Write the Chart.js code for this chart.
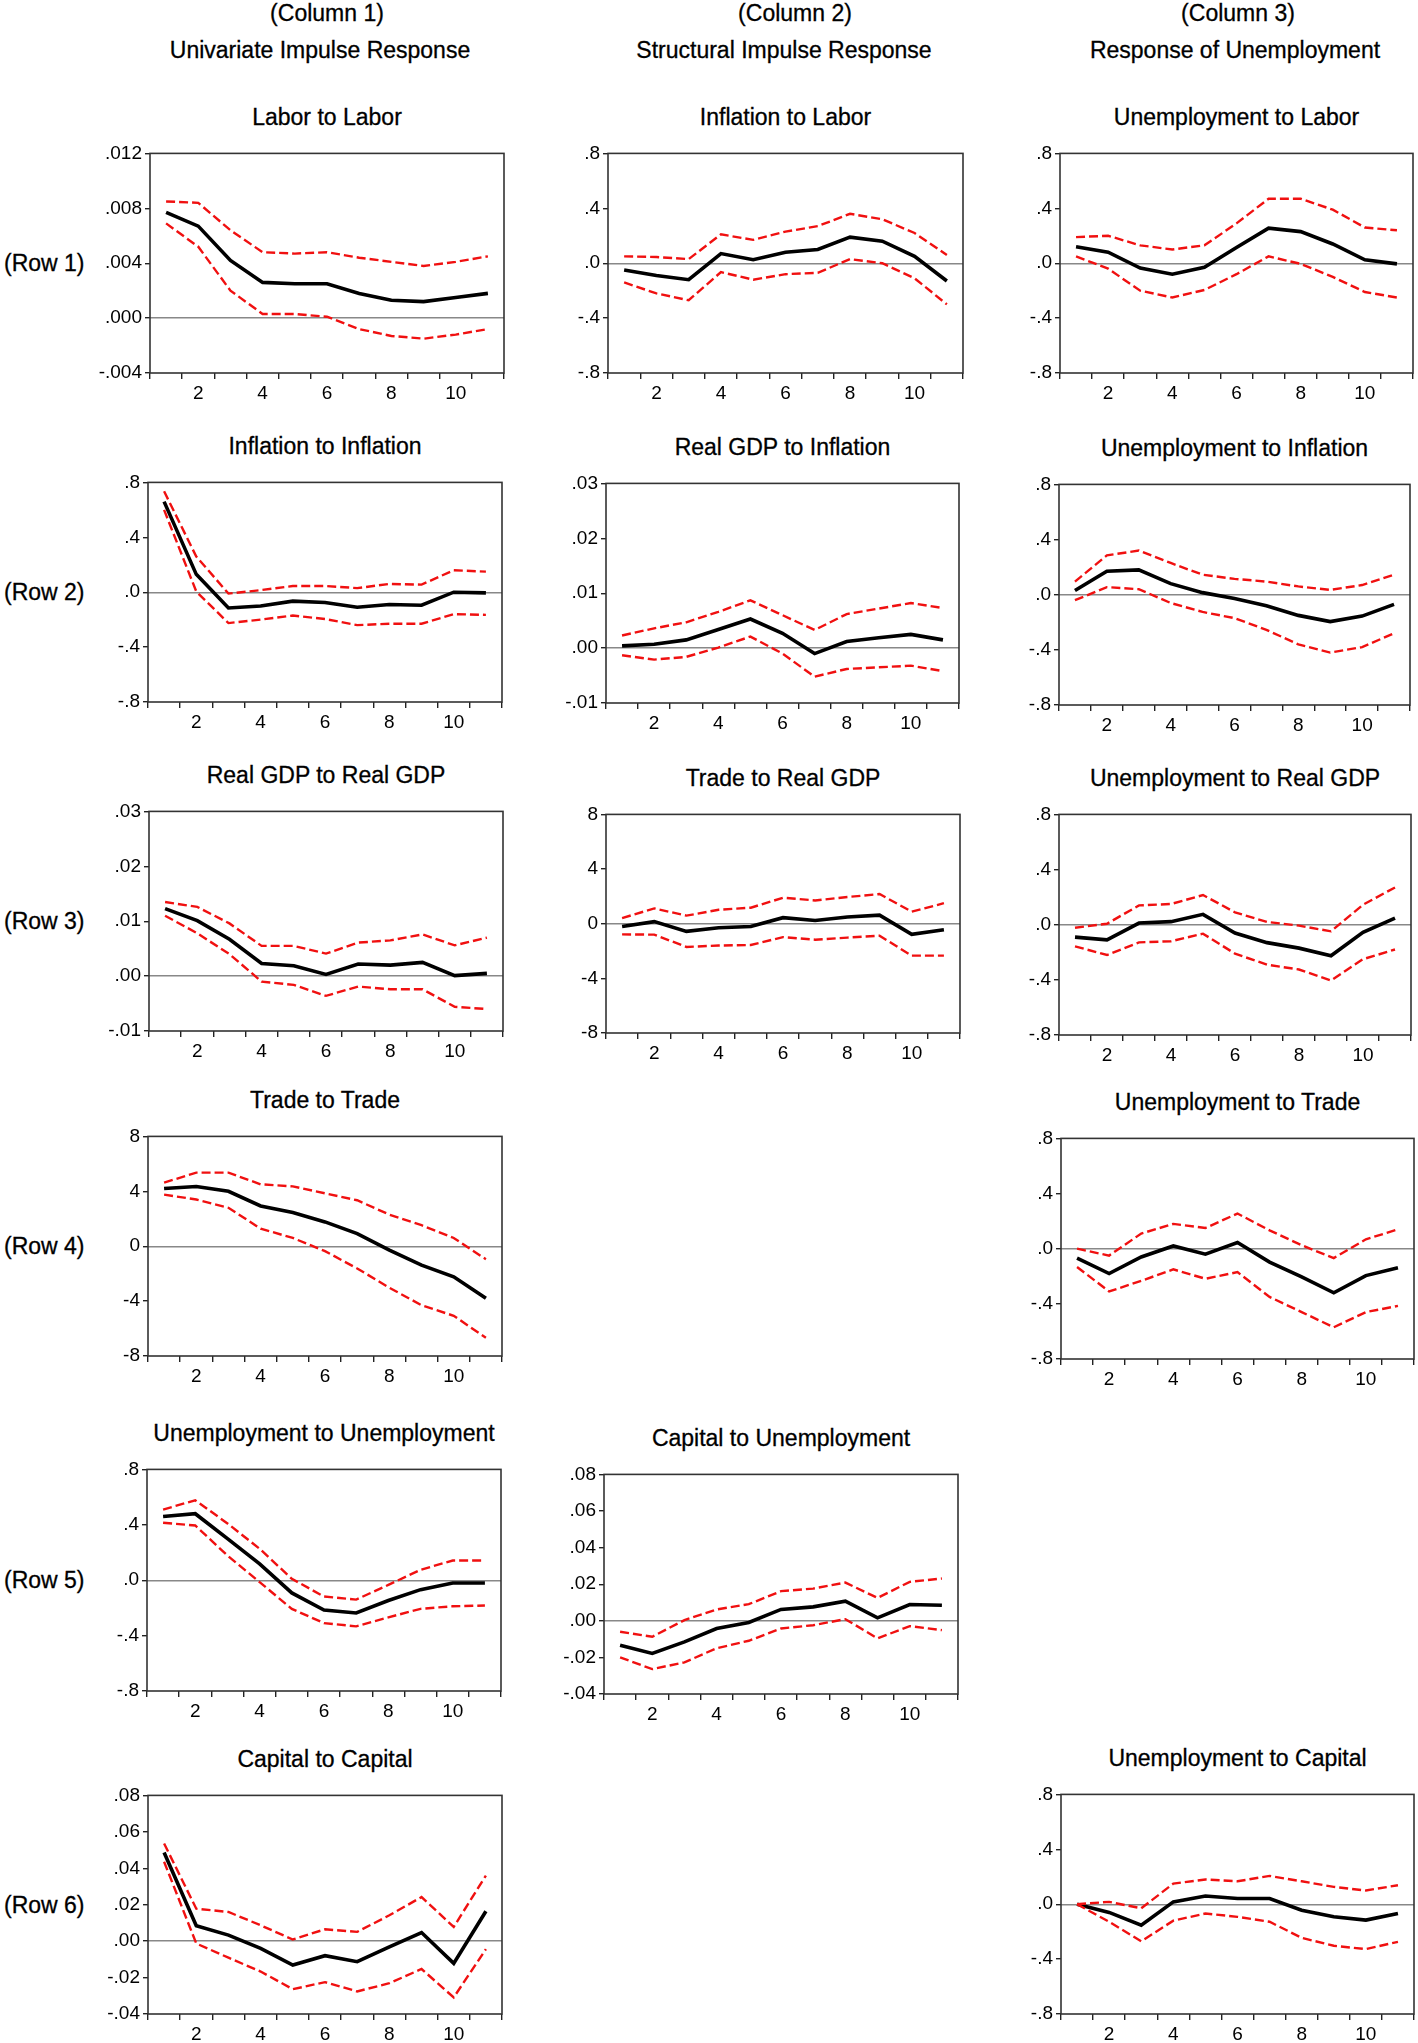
<!DOCTYPE html>
<html>
<head>
<meta charset="utf-8">
<script src="https://cdn.jsdelivr.net/npm/chart.js@4.4.1/dist/chart.umd.min.js"></script>
<style>
  body { margin: 0; background: #fff; font-family: 'Liberation Sans', Arial, sans-serif; color: #000; }
  #page { position: relative; width: 1418px; height: 2043px; overflow: hidden; }
  .lbl { position: absolute; transform: translate(-50%, -50%); white-space: nowrap; font-size: 23px; -webkit-text-stroke: 0.3px #000; }
  .title { font-size: 23px; }
  .rowLbl { position: absolute; transform: translateY(-50%); white-space: nowrap; font-size: 23px; -webkit-text-stroke: 0.3px #000; }
  canvas { position: absolute; }
</style>
</head>
<body>
<div id="page"></div>
<script>
const periods = ['1', '2', '3', '4', '5', '6', '7', '8', '9', '10', '11'];

// y tick values
const ticksPt8 = [-0.8, -0.4, 0, 0.4, 0.8];
const ticksPt012 = [-0.004, 0, 0.004, 0.008, 0.012];
const ticksPt03 = [-0.01, 0, 0.01, 0.02, 0.03];
const ticksEight = [-8, -4, 0, 4, 8];
const ticksPt08 = [-0.04, -0.02, 0, 0.02, 0.04, 0.06, 0.08];

// Column 1 - univariate
const labLab   = [.0077, .0067, .0042, .0026, .0025, .0025, .0018, .0013, .0012, .0015, .0018];
const labLabHi = [.0085, .0084, .0064, .0048, .0047, .0048, .0044, .0041, .0038, .0041, .0045];
const labLabLo = [.0069, .0052, .0020, .0003, .0003, .0001, -.0008, -.0013, -.0015, -.0012, -.0008];

const infInf   = [.66, .13, -.115, -.10, -.065, -.075, -.11, -.09, -.095, 0, -.005];
const infInfHi = [.735, .26, -.01, .015, .045, .045, .03, .06, .055, .16, .15];
const infInfLo = [.60, .005, -.225, -.20, -.17, -.195, -.24, -.23, -.23, -.16, -.165];

const gdpGdp   = [.0123, .0101, .0067, .0023, .0019, .0003, .0022, .0020, .0025, .0001, .0005];
const gdpGdpHi = [.0135, .0126, .0096, .0055, .0055, .0041, .0061, .0065, .0076, .0056, .0070];
const gdpGdpLo = [.0110, .0078, .0040, -.0010, -.0016, -.0036, -.0019, -.0024, -.0024, -.0056, -.0060];

const trdTrd   = [4.2, 4.35, 4.0, 2.93, 2.45, 1.77, .92, -.29, -1.38, -2.23, -3.8];
const trdTrdHi = [4.63, 5.36, 5.36, 4.51, 4.36, 3.85, 3.35, 2.3, 1.53, .6, -.95];
const trdTrdLo = [3.76, 3.4, 2.8, 1.28, .6, -.36, -1.62, -3.03, -4.3, -5.07, -6.67];

const unUn   = [.46, .48, .30, .118, -.092, -.215, -.237, -.147, -.068, -.02, -.02];
const unUnHi = [.51, .577, .41, .227, .01, -.118, -.14, -.034, .075, .142, .142];
const unUnLo = [.415, .395, .178, -.014, -.207, -.31, -.333, -.268, -.207, -.188, -.183];

const capCap   = [.0487, .0084, .0033, -.0040, -.0131, -.0080, -.0113, -.0031, .0047, -.0122, .0164];
const capCapHi = [.0536, .0178, .0160, .0087, .0009, .0065, .0051, .0142, .0242, .0078, .0360];
const capCapLo = [.0436, -.0013, -.0091, -.0167, -.0264, -.0225, -.0276, -.0231, -.0153, -.0309, -.0044];

// Column 2 - structural
const infLab   = [-.05, -.09, -.12, .07, .025, .08, .10, .19, .16, .05, -.13];
const infLabHi = [.05, .045, .03, .21, .17, .23, .27, .36, .32, .22, .06];
const infLabLo = [-.14, -.22, -.27, -.065, -.12, -.08, -.07, .03, 0, -.11, -.30];

const gdpInf   = [.0004, .0007, .0015, .0034, .0053, .0027, -.0010, .0012, .0019, .0025, .0015];
const gdpInfHi = [.0023, .0036, .0047, .0066, .0087, .0060, .0033, .0062, .0072, .0082, .0073];
const gdpInfLo = [-.0013, -.0021, -.0016, .0001, .0021, -.0010, -.0052, -.0038, -.0035, -.0032, -.0042];

const trdGdp   = [-.2, .15, -.56, -.3, -.2, .44, .24, .49, .63, -.78, -.44];
const trdGdpHi = [.41, 1.12, .59, 1.02, 1.17, 1.9, 1.7, 1.95, 2.17, .88, 1.5];
const trdGdpLo = [-.78, -.8, -1.7, -1.6, -1.56, -.98, -1.17, -1.02, -.88, -2.34, -2.34];

const capUn   = [-.0133, -.0178, -.0115, -.0042, -.0009, .0062, .0076, .0107, .0016, .0089, .0085];
const capUnHi = [-.0060, -.0087, .0004, .0062, .0091, .0162, .0176, .0209, .0125, .0213, .0231];
const capUnLo = [-.0200, -.0264, -.0227, -.0150, -.0109, -.0042, -.0024, .0009, -.0096, -.0029, -.0051];

// Column 3 - unemployment
const unLab   = [.12, .08, -.035, -.08, -.03, .115, .255, .23, .14, .025, -.005];
const unLabHi = [.19, .20, .13, .10, .13, .29, .47, .47, .39, .26, .24];
const unLabLo = [.05, -.04, -.20, -.25, -.195, -.08, .05, -.005, -.10, -.21, -.25];

const unInf   = [.03, .17, .18, .08, .015, -.027, -.08, -.15, -.195, -.155, -.07];
const unInfHi = [.095, .285, .32, .23, .145, .115, .095, .06, .035, .07, .145];
const unInfLo = [-.04, .055, .04, -.06, -.125, -.17, -.255, -.36, -.42, -.38, -.28];

const unGdp   = [-.09, -.11, .012, .022, .075, -.06, -.13, -.17, -.225, -.055, .048];
const unGdpHi = [-.022, .007, .14, .15, .215, .09, .02, -.007, -.048, .145, .27];
const unGdpLo = [-.157, -.22, -.128, -.12, -.065, -.21, -.29, -.325, -.405, -.25, -.18];

const unTrd   = [-.068, -.18, -.06, .02, -.04, .045, -.097, -.205, -.32, -.195, -.138];
const unTrdHi = [0, -.05, .11, .18, .15, .255, .133, .025, -.068, .068, .14];
const unTrdLo = [-.133, -.31, -.233, -.15, -.218, -.17, -.35, -.46, -.57, -.46, -.415];

const unCap   = [0, -.06, -.153, .017, .06, .041, .041, -.044, -.092, -.116, -.068];
const unCapHi = [0, .017, -.03, .15, .18, .167, .206, .167, .126, .10, .138];
const unCapLo = [0, -.128, -.27, -.12, -.068, -.092, -.128, -.245, -.303, -.327, -.274];


const FONT = "'Liberation Sans', Arial, sans-serif";
Chart.defaults.font.family = FONT;

const page = document.getElementById('page');

// box = [plot left, plot top, plot width, plot height]
const panels = [
  { title: 'Labor to Labor', lines: [labLab, labLabHi, labLabLo], ticks: ticksPt012, dec: 3, box: [150, 153, 354, 220] },
  { title: 'Inflation to Labor', lines: [infLab, infLabHi, infLabLo], ticks: ticksPt8, dec: 1, box: [608, 153, 355, 220] },
  { title: 'Unemployment to Labor', lines: [unLab, unLabHi, unLabLo], ticks: ticksPt8, dec: 1, box: [1060, 153, 353, 220] },

  { title: 'Inflation to Inflation', lines: [infInf, infInfHi, infInfLo], ticks: ticksPt8, dec: 1, box: [148, 482, 354, 220] },
  { title: 'Real GDP to Inflation', lines: [gdpInf, gdpInfHi, gdpInfLo], ticks: ticksPt03, dec: 2, box: [606, 483, 353, 220] },
  { title: 'Unemployment to Inflation', lines: [unInf, unInfHi, unInfLo], ticks: ticksPt8, dec: 1, box: [1059, 484, 351, 221] },

  { title: 'Real GDP to Real GDP', lines: [gdpGdp, gdpGdpHi, gdpGdpLo], ticks: ticksPt03, dec: 2, box: [149, 811, 354, 220] },
  { title: 'Trade to Real GDP', lines: [trdGdp, trdGdpHi, trdGdpLo], ticks: ticksEight, dec: 0, box: [606, 814, 354, 219] },
  { title: 'Unemployment to Real GDP', lines: [unGdp, unGdpHi, unGdpLo], ticks: ticksPt8, dec: 1, box: [1059, 814, 352, 221] },

  { title: 'Trade to Trade', lines: [trdTrd, trdTrdHi, trdTrdLo], ticks: ticksEight, dec: 0, box: [148, 1136, 354, 220] },
  { title: 'Unemployment to Trade', lines: [unTrd, unTrdHi, unTrdLo], ticks: ticksPt8, dec: 1, box: [1061, 1138, 353, 221] },

  { title: 'Unemployment to Unemployment', lines: [unUn, unUnHi, unUnLo], ticks: ticksPt8, dec: 1, box: [147, 1469, 354, 222] },
  { title: 'Capital to Unemployment', lines: [capUn, capUnHi, capUnLo], ticks: ticksPt08, dec: 2, box: [604, 1474, 354, 220] },

  { title: 'Capital to Capital', lines: [capCap, capCapHi, capCapLo], ticks: ticksPt08, dec: 2, box: [148, 1795, 354, 219] },
  { title: 'Unemployment to Capital', lines: [unCap, unCapHi, unCapLo], ticks: ticksPt8, dec: 1, box: [1061, 1794, 353, 220] }
];

function addText(text, x, y, cls) {
  const div = document.createElement('div');
  div.className = cls || 'lbl';
  div.textContent = text;
  div.style.left = x + 'px';
  div.style.top = y + 'px';
  page.appendChild(div);
}

// EViews style: no leading zero (.4, -.004, .00)
function fmtTick(v, dec) {
  return Number(v).toFixed(dec).replace('0.', '.');
}

const frameBox = {
  id: 'frameBox',
  afterDatasetsDraw(chart) {
    const a = chart.chartArea;
    const ctx = chart.ctx;
    ctx.save();
    ctx.strokeStyle = '#333';
    ctx.lineWidth = 1.6;
    ctx.strokeRect(a.left, a.top, a.right - a.left, a.bottom - a.top);
    ctx.restore();
  }
};

const AXIS_W = 66, AXIS_H = 42, PAD_T = 14, PAD_R = 8;

function drawPanel(p) {
  const [left, top, w, h] = p.box;
  const canvas = document.createElement('canvas');
  canvas.width = AXIS_W + w + PAD_R;
  canvas.height = PAD_T + h + AXIS_H;
  canvas.style.left = (left - AXIS_W) + 'px';
  canvas.style.top = (top - PAD_T) + 'px';
  page.appendChild(canvas);

  addText(p.title, left + w / 2, top - 36, 'lbl title');

  const [mid, hi, lo] = p.lines;
  const band = {
    borderColor: '#f01010',
    borderWidth: 2.4,
    borderDash: [9, 4],
    pointRadius: 0,
    tension: 0,
    fill: false
  };

  new Chart(canvas, {
    type: 'line',
    data: {
      labels: periods,
      datasets: [
        { ...band, data: hi },
        { ...band, data: lo },
        { data: mid, borderColor: '#000', borderWidth: 3.6, pointRadius: 0, tension: 0, fill: false }
      ]
    },
    options: {
      responsive: false,
      animation: false,
      layout: { padding: { top: PAD_T, right: PAD_R, left: 0, bottom: 0 } },
      plugins: { legend: { display: false }, tooltip: { enabled: false } },
      scales: {
        x: {
          offset: true,
          grid: { offset: true, drawOnChartArea: false, color: '#222', tickColor: '#222', tickLength: 6, lineWidth: 1.4 },
          border: { display: false },
          ticks: {
            autoSkip: false,
            maxRotation: 0,
            color: '#000',
            padding: 3,
            font: { size: 19 },
            callback: (v, i) => ((i + 1) % 2 === 0 ? periods[i] : '')
          },
          afterFit: s => { s.height = AXIS_H; }
        },
        y: {
          min: p.ticks[0],
          max: p.ticks[p.ticks.length - 1],
          afterBuildTicks: s => { s.ticks = p.ticks.map(v => ({ value: v })); },
          grid: {
            color: c => (c.tick && Math.abs(c.tick.value) < 1e-9 ? '#888' : 'transparent'),
            lineWidth: 1.4,
            tickColor: '#222',
            tickLength: 5
          },
          border: { display: false },
          ticks: {
            color: '#000',
            padding: 3,
            font: { size: 19 },
            callback: v => fmtTick(v, p.dec)
          },
          afterFit: s => { s.width = AXIS_W; }
        }
      }
    },
    plugins: [frameBox]
  });
}

// headers
addText('(Column 1)', 327, 13);
addText('Univariate Impulse Response', 320, 50);
addText('(Column 2)', 795, 13);
addText('Structural Impulse Response', 784, 50);
addText('(Column 3)', 1238, 13);
addText('Response of Unemployment', 1235, 50);

const rowCenters = [263, 592, 921, 1246, 1580, 1905];
rowCenters.forEach((y, i) => addText(`(Row ${i + 1})`, 4, y, 'rowLbl'));

panels.forEach(drawPanel);
</script>
</body>
</html>
